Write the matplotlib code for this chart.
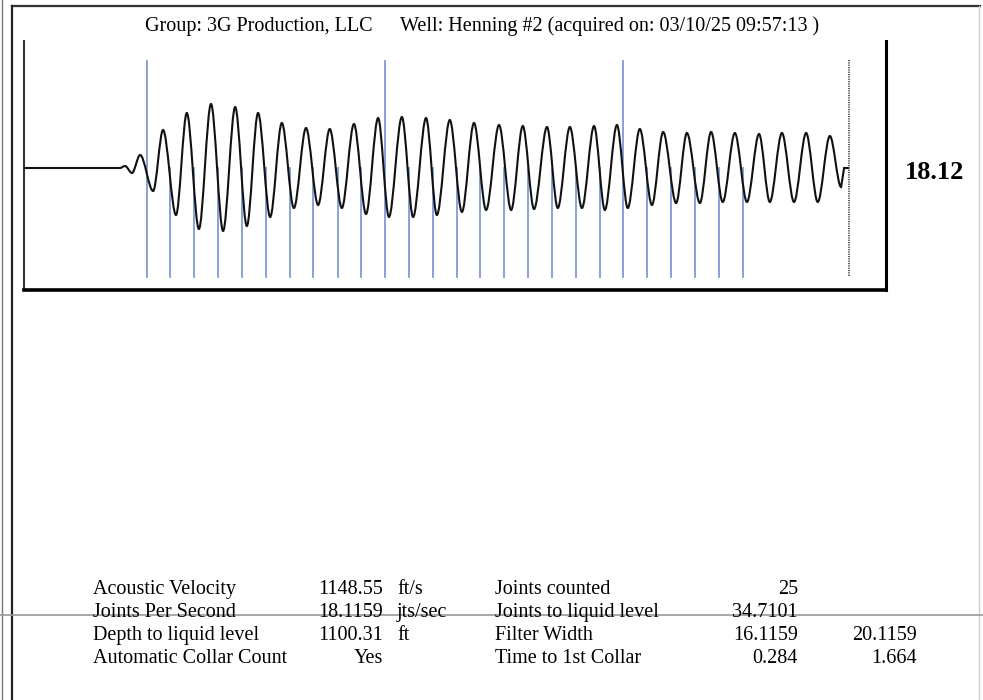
import matplotlib
matplotlib.use("Agg")
import matplotlib.pyplot as plt
from matplotlib.path import Path
from matplotlib.patches import PathPatch
from matplotlib.lines import Line2D

plt.rcParams['font.family'] = ['Liberation Serif', 'DejaVu Serif']

W, H = 983, 700

# ---- data ----
title_group = "Group: 3G Production, LLC"
title_well = "Well: Henning #2 (acquired on: 03/10/25 09:57:13 )"
jps_label = "18.12"

# collar times (s); every 10th collar drawn tall
collar_t = [0.284, 0.339, 0.394, 0.450, 0.505, 0.560, 0.615, 0.670, 0.726,
            0.781, 0.836, 0.891, 0.946, 1.002, 1.057, 1.112, 1.167, 1.222,
            1.278, 1.333, 1.388, 1.443, 1.498, 1.554, 1.609, 1.664]
liquid_t = 1.910

# filtered acoustic trace: flat start, then extrema (time s, amplitude)
flat_t = [0.0, 0.222]
ext_t = [0.234, 0.250, 0.269, 0.299, 0.322, 0.352, 0.377, 0.405, 0.433, 0.461,
         0.489, 0.516, 0.542, 0.570, 0.597, 0.625, 0.653, 0.681, 0.708, 0.736,
         0.764, 0.792, 0.820, 0.845, 0.875, 0.901, 0.931, 0.956, 0.986, 1.014,
         1.042, 1.070, 1.100, 1.128, 1.155, 1.181, 1.211, 1.236, 1.264, 1.292,
         1.320, 1.345, 1.373, 1.398, 1.426, 1.454, 1.480, 1.510, 1.535, 1.565,
         1.591, 1.618, 1.646, 1.674, 1.702, 1.727, 1.755, 1.783, 1.811, 1.838,
         1.866, 1.892]
ext_a = [2, -5, 13, -23, 38, -47, 55, -61, 64, -63,
         61, -58, 55, -49, 45, -40, 40, -37, 39, -40,
         44, -46, 50, -49, 51, -49, 50, -47, 48, -44,
         45, -42, 43, -42, 42, -41, 41, -40, 41, -40,
         42, -42, 43, -40, 39, -37, 36, -35, 35, -35,
         36, -34, 35, -34, 34, -34, 35, -34, 35, -34,
         32, -19]
tail_t = [1.899, 1.910]

labels_left = ["Acoustic Velocity", "Joints Per Second",
               "Depth to liquid level", "Automatic Collar Count"]
values_left = ["1148.55", "18.1159", "1100.31", "Yes"]
units_left = ["ft/s", "jts/sec", "ft", ""]
labels_right = ["Joints counted", "Joints to liquid level",
                "Filter Width", "Time to 1st Collar"]
values_right = ["25", "34.7101", "16.1159", "0.284"]
values_extra = ["", "", "20.1159", "1.664"]

# ---- figure ----
fig = plt.figure(figsize=(W / 100, H / 100), dpi=100)

def fx(px):
    return px / W

def fy(py):
    return 1 - py / H

# page frame
fig.add_artist(Line2D([fx(12), fx(980)], [fy(6), fy(6)], color='#333333', lw=1.6))
fig.add_artist(Line2D([fx(12), fx(12)], [fy(6), 0], color='#222222', lw=1.6))
fig.add_artist(Line2D([fx(979), fx(979)], [fy(6), 0], color='#cccccc', lw=1))
fig.add_artist(Line2D([fx(2), fx(2)], [1, 0], color='#777777', lw=1))
fig.add_artist(Line2D([0, 1], [fy(615), fy(615)], color='#999999', lw=1.2))

# trace axes
ax = fig.add_axes([fx(24), fy(290), fx(886) - fx(24), fy(41) - fy(290)])
ax.set_xlim(0, 1.996)
ax.set_ylim(-122, 127)
ax.set_xticks([])
ax.set_yticks([])
ax.spines['top'].set_visible(False)
ax.spines['left'].set_linewidth(1.5)
ax.spines['left'].set_color('#333333')
ax.spines['bottom'].set_linewidth(2.6)
ax.spines['right'].set_linewidth(2.2)

# collar markers
for i, t in enumerate(collar_t):
    top = 107 if i % 10 == 0 else 0
    ax.plot([t, t], [-109, top], color='#7f9ad6', lw=1.3, zorder=1)

# liquid level marker
ax.plot([liquid_t, liquid_t], [108, -109], color='#555555', lw=1.4,
        linestyle=(0, (0.6, 0.6)), zorder=1)

# trace as smooth curve through extrema
verts = [(flat_t[0], 0), (flat_t[1], 0)]
codes = [Path.MOVETO, Path.LINETO]
prev = (flat_t[1], 0)
for t, a in zip(ext_t, ext_a):
    dt = t - prev[0]
    verts += [(prev[0] + dt / 3, prev[1]), (t - dt / 3, a), (t, a)]
    codes += [Path.CURVE4] * 3
    prev = (t, a)
for t in tail_t:
    verts.append((t, 0))
    codes.append(Path.LINETO)
ax.add_patch(PathPatch(Path(verts, codes), fill=False, edgecolor='#111111',
                       lw=1.5, zorder=3))

# texts
fs = 14.5
fig.text(fx(145), fy(31), title_group, fontsize=fs, va='baseline', ha='left')
fig.text(fx(400), fy(31), title_well, fontsize=fs, va='baseline', ha='left')
fig.text(fx(935), fy(179), jps_label, fontsize=19, fontweight='bold',
         va='baseline', ha='center')

row_y = [594, 617, 640, 663]
for i, y in enumerate(row_y):
    fig.text(fx(93), fy(y), labels_left[i], fontsize=fs, va='baseline')
    fig.text(fx(383), fy(y), values_left[i], fontsize=fs, va='baseline', ha='right')
    fig.text(fx(397), fy(y), units_left[i], fontsize=fs, va='baseline')
    fig.text(fx(495), fy(y), labels_right[i], fontsize=fs, va='baseline')
    fig.text(fx(798), fy(y), values_right[i], fontsize=fs, va='baseline', ha='right')
    fig.text(fx(917), fy(y), values_extra[i], fontsize=fs, va='baseline', ha='right')

fig.savefig("out.png", dpi=100)
